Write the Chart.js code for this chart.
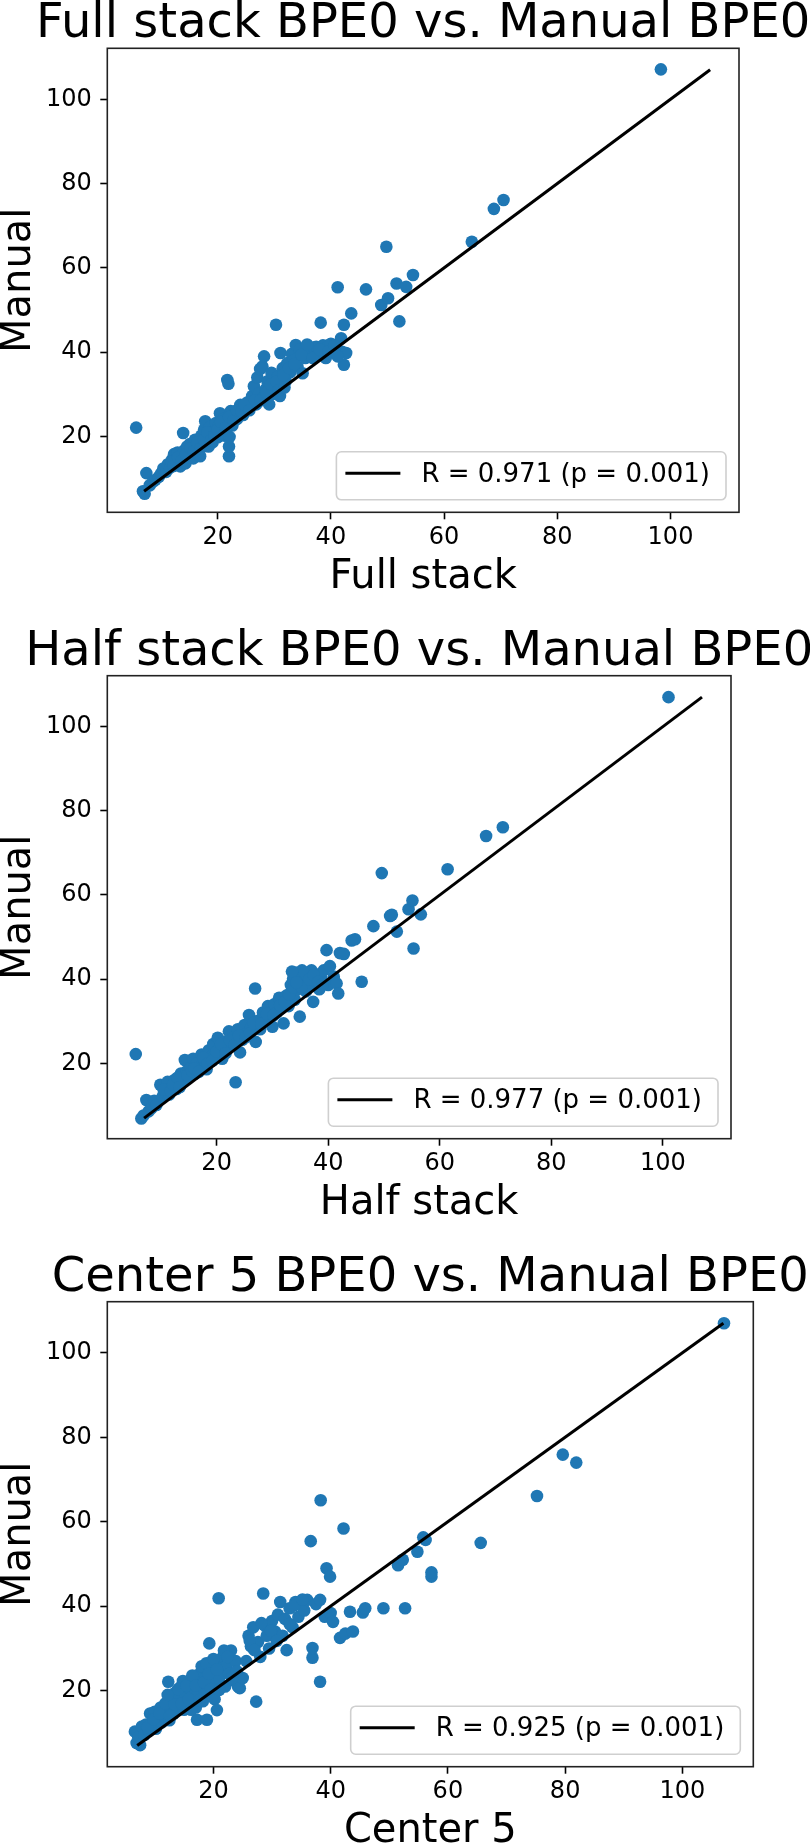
<!DOCTYPE html>
<html>
<head>
<meta charset="utf-8">
<script src="https://cdn.jsdelivr.net/npm/chart.js@4.4.1/dist/chart.umd.min.js"></script>
<style>
  html, body { margin: 0; padding: 0; background: #fff; }
  #page { position: relative; width: 810px; height: 1846px; overflow: hidden; background: #fff; }
  #page canvas { position: absolute; left: 0; }
</style>
</head>
<body>
<div id="page">
  <canvas id="c1"></canvas>
  <canvas id="c2"></canvas>
  <canvas id="c3"></canvas>
</div>
<script>
// [automated BPE0, manual BPE0]
const fullStackPts = [
  [5.6,22.1],[6.8,7.0],[7.1,6.4],[7.4,11.3],[8.0,8.4],[8.6,9.3],[9.0,9.7],[9.6,10.4],[10.0,11.2],[10.4,12.4],
  [10.9,11.6],[11.2,13.4],[11.6,12.6],[12.0,14.6],[12.3,15.8],[12.6,13.3],[12.9,16.2],[13.2,14.2],[13.4,12.9],[13.7,15.6],
  [13.9,20.8],[14.1,16.7],[14.3,13.6],[14.6,17.6],[14.9,15.1],[15.1,18.2],[15.4,16.3],[15.7,14.8],[16.0,19.2],[16.3,17.1],
  [16.6,15.6],[16.9,15.3],[17.1,20.2],[17.4,18.1],[17.6,21.6],[17.8,23.6],[18.1,19.6],[18.4,17.6],[18.6,22.2],[18.9,20.6],
  [19.1,18.6],[19.4,21.2],[19.7,23.2],[20.0,19.8],[20.2,22.6],[20.4,25.5],[20.7,21.1],[21.0,24.1],[21.2,20.2],[21.5,23.2],
  [21.7,33.4],[21.9,32.5],[22.0,15.3],[22.0,17.6],[22.1,19.9],[22.3,26.0],[22.6,22.6],[23.0,25.2],[23.4,24.1],[23.8,26.6],
  [24.0,27.5],[24.5,25.1],[25.0,26.6],[25.3,28.1],[25.8,27.1],[26.1,29.6],[26.4,31.9],[26.8,27.6],[27.0,34.0],[27.3,30.2],
  [27.5,36.0],[27.9,36.6],[28.0,29.1],[28.2,39.0],[28.5,31.2],[28.8,33.1],[29.1,27.6],[29.5,35.1],[29.8,30.1],[30.1,32.2],
  [30.3,46.5],[30.6,34.1],[31.0,29.6],[31.1,39.8],[31.5,36.2],[32.0,33.1],[32.3,37.4],[32.8,35.2],[33.1,39.6],[33.5,38.1],
  [33.8,41.7],[34.1,36.6],[34.5,40.6],[35.0,35.0],[35.5,38.6],[36.0,40.1],[36.5,39.8],[37.0,41.1],[37.4,41.3],[37.8,39.6],
  [38.2,47.0],[38.6,41.6],[39.1,38.6],[39.5,41.5],[40.0,42.0],[40.5,40.4],[41.2,55.4],[41.8,43.3],[42.0,40.1],[42.3,46.5],
  [42.3,37.0],[42.7,39.8],[43.6,49.2],[46.2,54.9],[48.9,51.2],[49.8,65.0],[50.1,52.8],[51.6,56.3],[52.1,47.3],[53.3,55.5],
  [54.5,58.3],[64.9,66.2],[68.8,74.0],[70.5,76.1],[98.3,107.1],
  [11.8,14.0],[12.2,13.0],[13.0,15.0],[13.6,14.2],[14.4,15.8],[15.2,17.2],[15.8,16.4],[16.4,18.6],[17.0,17.2],[17.6,19.2],
  [18.2,21.0],[18.8,19.0],[19.4,20.2],[20.0,21.6],[20.6,23.4],[21.4,22.0],[22.0,24.6],[22.8,23.8],[23.4,26.2],[24.2,26.0],
  [24.8,27.6],[25.6,26.2],[26.6,28.6],[27.6,28.6],[28.6,30.4],[29.4,32.4],[30.4,33.0],[31.6,34.6],[32.6,36.2],[33.6,37.2],
  [34.8,39.4],[35.8,41.8],[36.8,38.6],[38.0,40.6],[39.6,40.2],[40.6,41.6],[41.2,39.0],[30.8,31.0],[31.8,31.6]
];
const halfStackPts = [
  [5.5,22.2],[6.5,6.9],[6.9,7.6],[7.4,11.3],[7.8,8.6],[8.3,9.3],[8.8,11.1],[9.2,10.1],[9.9,14.9],[10.3,12.1],
  [10.8,13.1],[11.2,15.6],[11.5,12.6],[12.0,14.1],[12.5,16.1],[12.8,13.9],[13.2,15.1],[13.6,17.6],[14.0,16.1],[14.3,20.8],
  [14.6,18.1],[15.0,16.6],[15.4,19.1],[15.8,21.1],[16.2,17.6],[16.5,20.1],[17.0,19.1],[17.3,22.1],[17.8,20.6],[18.2,18.6],
  [18.6,23.1],[19.0,21.6],[19.4,24.6],[19.8,22.1],[20.2,26.1],[20.5,23.6],[21.0,21.1],[21.3,25.1],[21.8,23.1],[22.2,27.6],
  [22.6,24.6],[23.0,26.1],[23.4,15.5],[23.8,28.1],[24.2,22.6],[24.6,25.6],[25.0,29.1],[25.5,27.1],[25.8,31.5],[26.2,28.6],
  [26.9,37.8],[27.0,25.1],[27.4,30.1],[27.8,28.1],[28.3,32.1],[28.8,30.1],[29.2,33.6],[29.6,31.1],[30.0,28.7],[30.4,34.1],
  [30.8,32.1],[31.2,35.6],[31.6,33.1],[32.0,29.5],[32.5,36.1],[32.9,33.6],[33.3,38.6],[33.7,40.1],[34.0,35.1],[34.2,41.6],
  [34.5,37.6],[34.9,31.1],[35.0,39.6],[35.3,42.1],[35.6,40.6],[36.0,37.1],[36.3,41.1],[36.7,38.6],[37.0,42.1],[37.3,34.6],
  [37.6,39.6],[38.0,41.1],[38.4,37.6],[38.8,40.1],[39.2,42.1],[39.7,46.9],[40.0,38.6],[40.3,43.1],[41.0,40.6],[41.5,39.0],
  [41.8,36.6],[42.1,46.2],[42.8,46.0],[44.2,49.2],[44.8,49.5],[46.0,39.4],[48.1,52.6],[49.6,65.2],[51.1,55.0],[51.4,55.3],
  [52.3,51.3],[54.4,56.6],[55.1,58.7],[55.3,47.3],[56.6,55.4],[61.4,66.1],[68.3,74.0],[71.3,76.1],[101.0,107.0],
  [10.5,13.8],[11.8,13.4],[12.2,15.0],[13.0,16.6],[13.4,14.4],[14.8,17.2],[15.6,18.2],[16.0,18.8],[16.8,18.0],[17.6,21.4],
  [18.4,20.0],[19.2,20.6],[20.0,22.8],[20.8,24.6],[21.6,22.4],[22.4,25.4],[23.2,24.4],[24.0,26.6],[25.2,26.2],[26.0,27.2],
  [26.6,29.6],[28.0,29.4],[29.0,31.8],[30.2,31.4],[31.4,33.8],[32.2,34.6],[33.0,36.4],[33.8,38.0],[34.6,40.6],[35.2,38.2],
  [35.8,41.6],[36.6,40.0],[37.4,41.0],[38.2,39.4],[39.0,38.8],[33.5,41.8],[34.3,39.2]
];
const center5Pts = [
  [6.6,10.3],[6.9,7.6],[7.2,9.0],[7.5,7.1],[7.8,11.5],[8.2,9.5],[8.5,12.0],[9.0,10.5],[9.2,14.6],[9.6,12.0],
  [10.0,15.0],[10.2,11.0],[10.5,13.5],[11.0,16.0],[11.2,12.5],[11.5,14.0],[12.0,15.5],[12.3,22.1],[12.5,13.0],[12.8,17.0],
  [13.2,14.5],[13.5,19.5],[13.8,16.0],[14.2,18.0],[14.5,21.0],[14.8,22.3],[15.0,15.5],[15.3,19.0],[15.6,17.0],[16.0,20.5],
  [16.3,18.5],[16.6,22.0],[17.0,16.0],[17.2,13.1],[17.4,19.5],[17.7,24.0],[18.0,21.0],[18.2,17.5],[18.5,25.5],[18.7,23.0],
  [18.9,13.1],[19.0,19.5],[19.3,31.2],[19.5,26.0],[19.7,22.0],[20.0,24.5],[20.2,18.0],[20.4,27.0],[20.6,15.4],[20.9,41.9],
  [21.0,23.0],[21.3,25.5],[21.6,28.0],[22.0,21.0],[22.3,26.0],[22.7,24.0],[23.0,29.5],[23.4,22.5],[23.8,27.0],[24.2,21.0],
  [24.5,20.6],[25.0,23.0],[25.6,27.0],[26.0,33.0],[26.4,30.5],[26.8,35.0],[27.3,17.4],[27.6,31.5],[28.0,28.0],[28.5,43.0],
  [28.7,35.5],[29.1,33.0],[29.5,30.0],[30.0,36.5],[30.5,34.0],[31.0,38.0],[31.4,41.0],[31.8,33.0],[32.2,37.0],[32.5,29.6],
  [33.0,39.5],[33.5,35.0],[34.0,41.0],[34.5,37.5],[35.0,40.5],[35.5,39.0],[36.0,41.5],[36.6,55.4],[36.9,27.8],[36.9,30.1],
  [37.5,40.5],[38.2,41.5],[38.2,22.1],[38.3,65.1],[39.0,37.5],[39.3,49.0],[39.9,47.0],[40.0,38.4],[40.4,36.3],[41.6,32.5],
  [42.2,58.4],[42.5,33.5],[43.3,38.7],[43.8,34.0],[45.5,38.5],[45.9,39.5],[49.0,39.5],[51.5,49.7],[52.3,51.0],[52.7,39.5],
  [54.8,52.9],[55.8,56.3],[56.2,55.7],[57.2,47.0],[57.2,48.0],[65.6,55.0],[75.2,66.1],[79.6,75.9],[81.9,74.0],[107.1,107.0],
  [8.8,11.4],[9.8,13.2],[10.8,14.6],[11.8,17.0],[12.6,14.0],[13.4,16.8],[14.0,20.4],[14.6,17.0],[15.4,21.2],[15.8,18.0],
  [16.4,23.6],[17.0,21.2],[17.6,17.8],[18.0,25.8],[18.4,22.0],[18.8,26.5],[19.2,24.0],[19.6,20.4],[20.0,27.5],[20.6,25.0],
  [21.0,20.2],[21.8,29.5],[22.4,28.0],[23.2,23.0],[24.0,24.6],[26.2,31.8],[27.0,29.6],[28.2,36.0],[29.8,34.2],[30.8,31.8],
  [33.0,35.8],[33.8,40.2],[35.2,41.6],[16.2,15.5],[12.2,19.0]
];

const identityLine = [7, 107];
const xTicks = [20, 40, 60, 80, 100];
const yTicks = [20, 40, 60, 80, 100];
const methodNames = ['Full stack', 'Half stack', 'Center 5'];
const rLabels = ['R = 0.971 (p = 0.001)', 'R = 0.977 (p = 0.001)', 'R = 0.925 (p = 0.001)'];

const FONT = '"DejaVu Sans", sans-serif';
const BLUE = '#1f77b4';

// where each subplot sits on the page (px)
const panels = [
  { id: 'c1', pts: fullStackPts, top: -1, height: 601, T: 48.3, B: 512.3, L: 107.3, R: 739, xr: [0.5, 112.1], yr: [2.0, 112.1] },
  { id: 'c2', pts: halfStackPts, top: 600, height: 625, T: 675.7, B: 1138.7, L: 107.3, R: 731, xr: [0.4, 112.2], yr: [2.1, 112.1] },
  { id: 'c3', pts: center5Pts, top: 1225, height: 630, T: 1301.7, B: 1766.7, L: 107.3, R: 753.3, xr: [1.9, 112.1], yr: [2.0, 112.1] }
];

const frame = {
  id: 'frame',
  afterDatasetsDraw(chart) {
    const { ctx, chartArea: a } = chart;
    ctx.save();
    ctx.lineWidth = 1.6;
    ctx.strokeStyle = '#222';
    ctx.strokeRect(a.left, a.top, a.right - a.left, a.bottom - a.top);
    ctx.restore();
  }
};

const headline = {
  id: 'headline',
  afterDraw(chart, args, opts) {
    const { ctx, chartArea: a } = chart;
    ctx.save();
    ctx.font = '48px ' + FONT;
    ctx.fillStyle = '#000';
    ctx.textAlign = 'center';
    ctx.textBaseline = 'alphabetic';
    ctx.fillText(opts.text, (a.left + a.right) / 2, a.top - 11);
    ctx.restore();
  }
};

const rLegend = {
  id: 'rLegend',
  afterDraw(chart) {
    const ds = chart.data.datasets[0];
    const { ctx, chartArea: a } = chart;
    ctx.save();
    ctx.font = '26px ' + FONT;
    const tw = ctx.measureText(ds.label).width;
    const w = 85 + tw + 16, h = 48;
    const x = a.right - 13 - w, y = a.bottom - 12.5 - h;
    ctx.beginPath();
    ctx.roundRect(x, y, w, h, 5);
    ctx.fillStyle = 'rgba(255,255,255,0.8)';
    ctx.fill();
    ctx.lineWidth = 1.6;
    ctx.strokeStyle = '#cfcfcf';
    ctx.stroke();
    const cy = y + h / 2;
    ctx.beginPath();
    ctx.moveTo(x + 9, cy - 2.5);
    ctx.lineTo(x + 64, cy - 2.5);
    ctx.strokeStyle = ds.borderColor;
    ctx.lineWidth = ds.borderWidth;
    ctx.stroke();
    ctx.fillStyle = '#000';
    ctx.textBaseline = 'middle';
    ctx.fillText(ds.label, x + 85, cy - 1);
    ctx.restore();
  }
};

panels.forEach((p, i) => {
  const canvas = document.getElementById(p.id);
  canvas.width = 810;
  canvas.height = p.height;
  canvas.style.top = p.top + 'px';

  const xScaleH = p.top + p.height - p.B;
  const xTitlePad = p.top + p.height - 20 - (p.B + 65);

  new Chart(canvas.getContext('2d'), {
    type: 'scatter',
    data: {
      datasets: [{
        label: rLabels[i],
        data: identityLine.map(v => ({ x: v, y: v })),
        showLine: true,
        borderColor: '#000',
        borderWidth: 3,
        pointRadius: 0,
        order: 0
      }, {
        label: methodNames[i],
        data: p.pts.map(d => ({ x: d[0], y: d[1] })),
        backgroundColor: BLUE,
        borderWidth: 0,
        pointRadius: 6.3,
        pointHoverRadius: 6.3,
        order: 1
      }]
    },
    options: {
      responsive: false,
      animation: false,
      events: [],
      layout: { padding: { top: p.T - p.top, right: 810 - p.R, bottom: 0, left: 0 } },
      plugins: {
        legend: { display: false },
        tooltip: { enabled: false },
        headline: { text: methodNames[i] + ' BPE0 vs. Manual BPE0' }
      },
      scales: {
        x: {
          type: 'linear',
          min: p.xr[0],
          max: p.xr[1],
          afterBuildTicks: s => { s.ticks = xTicks.map(v => ({ value: v })); },
          afterFit: s => { s.height = xScaleH; },
          grid: { display: true, drawOnChartArea: false, drawTicks: true, tickLength: 7, tickWidth: 1.6, tickColor: '#000' },
          border: { display: false },
          ticks: { color: '#000', font: { family: FONT, size: 24 }, padding: 4, maxRotation: 0, autoSkip: false },
          title: { display: true, text: methodNames[i], color: '#000', font: { family: FONT, size: 40, lineHeight: 1 }, padding: { top: 0, bottom: xTitlePad } }
        },
        y: {
          type: 'linear',
          min: p.yr[0],
          max: p.yr[1],
          afterBuildTicks: s => { s.ticks = yTicks.map(v => ({ value: v })); },
          afterFit: s => { s.width = p.L; },
          grid: { display: true, drawOnChartArea: false, drawTicks: true, tickLength: 7, tickWidth: 1.6, tickColor: '#000' },
          border: { display: false },
          ticks: { color: '#000', font: { family: FONT, size: 24 }, padding: 8.5, autoSkip: false },
          title: { display: true, text: 'Manual', color: '#000', font: { family: FONT, size: 40, lineHeight: 1 }, padding: { top: 0, bottom: 0 } }
        }
      }
    },
    plugins: [frame, headline, rLegend]
  });
});
</script>
</body>
</html>
